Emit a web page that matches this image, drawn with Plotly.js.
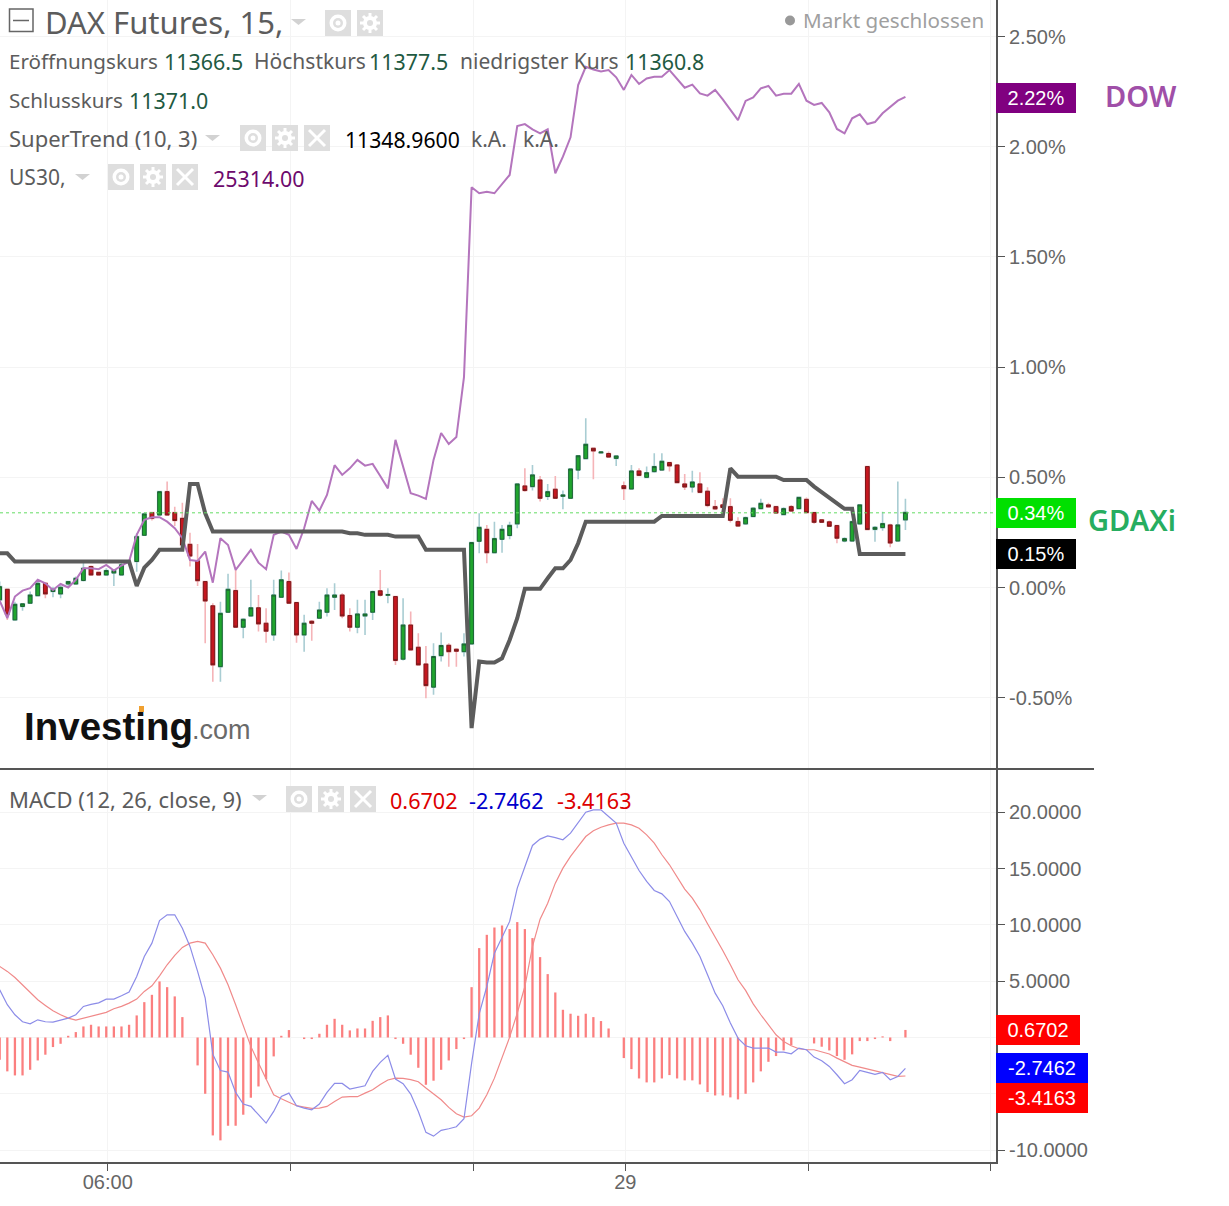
<!DOCTYPE html>
<html><head><meta charset="utf-8">
<script src="https://cdn.plot.ly/plotly-3.0.1.min.js"></script>
<style>html,body{margin:0;padding:0;background:#fff}#c{width:1229px;height:1206px}</style>
</head><body><div id="c"></div>
<script>
// ---- data; first entry of every series is bar slot -1 ----
const openPct = [-.056,
-.008,-.147,-.086,-.071,-.037,.019,-.018,-.029,.016,.016,
.032,.095,.069,.057,.066,.057,null,.118,.237,.340,
.329,.435,.340,.314,.196,.121,.027,-.083,-.359,-.112,
-.014,-.180,-.129,-.092,-.162,-.215,-.044,.027,-.068,-.215,
-.153,-.139,-.112,-.044,-.034,-.127,-.180,-.129,-.112,-.015,
-.035,-.041,-.325,-.170,-.271,-.347,-.452,-.309,-.262,-.280,
-.291,-.256,.210,.264,.158,.219,.236,.289,.461,.458,
.488,.413,.446,.414,.405,.533,.585,.632,.611,.608,
.586,.462,.447,.529,.500,.526,.533,.567,.556,.470,
.456,.470,.437,.367,.375,.367,.299,.289,.322,.358,
.375,.367,.331,.367,.358,.400,.340,.307,.298,.281,
.211,.211,.289,.549,.264,.272,.284,.211,.307];
const closePct = [.004,
-.121,-.076,-.074,-.034,.019,-.029,-.008,.001,.027,.042,
.087,.057,.057,.077,.077,.103,null,.231,.334,.314,
.435,.329,.304,.193,.143,.031,-.061,-.351,-.117,-.008,
-.180,-.144,-.092,-.165,-.198,-.034,.035,-.071,-.215,-.162,
-.162,-.102,-.034,-.034,-.129,-.180,-.120,-.120,-.018,-.035,
-.032,-.331,-.170,-.283,-.351,-.445,-.313,-.263,-.291,-.289,
-.256,.204,.273,.158,.222,.264,.282,.470,.440,.511,
.405,.435,.405,.420,.538,.598,.650,.620,.615,.592,
.597,.449,.529,.509,.521,.549,.573,.552,.476,.456,
.479,.432,.372,.357,.363,.305,.279,.317,.360,.382,
.366,.338,.358,.347,.409,.340,.296,.296,.278,.224,
.222,.299,.375,.263,.273,.290,.202,.284,.341];
const highPct = [.027,
-.008,-.064,-.074,-.018,.038,.022,.004,.019,.027,.050,
.118,.100,.072,.087,.080,.118,null,.246,.340,.344,
.435,.481,.367,.385,.249,.198,.027,-.071,-.064,.062,
.080,-.139,.035,-.034,-.094,.035,.077,.068,-.068,-.124,
-.147,-.064,-.003,.019,-.026,-.094,-.056,-.056,-.014,.080,
-.003,-.041,-.049,-.109,-.207,-.265,-.253,-.204,-.253,-.275,
-.207,.208,.337,.284,.299,.284,.299,.473,.541,.556,
.506,.470,.506,.440,.541,.601,.768,.632,.615,.617,
.600,.481,.556,.541,.549,.609,.609,.571,.561,.515,
.530,.523,.455,.397,.405,.405,.319,.322,.364,.403,
.385,.370,.364,.375,.413,.409,.344,.310,.304,.284,
.228,.304,.379,.549,.279,.344,.289,.481,.403];
const lowPct = [-.070,
-.147,-.147,-.105,-.074,-.041,-.049,-.044,-.049,.004,.016,
.027,.057,.054,.054,.007,.057,null,.072,.234,.304,
.326,.329,.279,.186,.095,.007,-.253,-.427,-.427,-.112,
-.180,-.230,-.132,-.200,-.250,-.241,-.044,-.071,-.250,-.291,
-.241,-.139,-.132,-.102,-.139,-.200,-.207,-.215,-.147,-.041,
-.071,-.351,-.331,-.286,-.351,-.502,-.487,-.336,-.359,-.359,
-.313,-.260,.155,.110,.158,.158,.219,.269,.435,.440,
.390,.397,.405,.355,.405,.491,.585,.491,.609,.591,
.552,.397,.446,.506,.500,.521,.530,.526,.473,.443,
.431,.432,.364,.352,.360,.295,.276,.284,.322,.355,
.363,.334,.328,.344,.355,.337,.289,.295,.276,.201,
.205,.208,.284,.261,.208,.258,.183,.211,.261];
const dowPct = [-.06,
-.139,-.041,-.014,-.003,.035,.019,-.011,.016,0,.035,
.087,.087,.083,.103,.077,.100,.118,.239,.307,.319,
.319,.299,.269,.224,.125,.121,.163,.022,.224,.193,
.080,.125,.171,.113,.083,.239,.254,.239,.175,.269,
.393,.349,.420,.555,.511,.541,.579,.553,.561,.506,
.450,.670,.549,.428,.417,.402,.579,.701,.651,.683,
.955,1.816,1.789,1.796,1.789,1.831,1.872,2.094,2.103,2.079,
2.061,2.079,1.880,1.955,2.043,2.280,2.363,2.351,2.342,2.348,
2.315,2.258,2.326,2.285,2.310,2.318,2.318,2.348,2.310,2.268,
2.282,2.242,2.232,2.258,2.215,2.167,2.121,2.208,2.224,2.265,
2.276,2.232,2.241,2.241,2.285,2.209,2.190,2.199,2.156,2.081,
2.061,2.129,2.147,2.103,2.112,2.152,2.179,2.209,2.226];
const superTrendPct = [.155,
.155,.118,.118,.118,.118,.118,.118,.118,.118,.118,
.118,.118,.118,.118,.118,.118,.118,.007,.090,.125,
.171,.171,.171,.171,.470,.470,.337,.254,.254,.254,
.254,.254,.254,.254,.254,.254,.254,.254,.254,.254,
.254,.254,.254,.254,.254,.246,.246,.239,.239,.239,
.239,.231,.231,.231,.231,.171,.171,.171,.171,.171,
.171,-.638,-.336,-.340,-.340,-.321,-.238,-.139,-.006,-.006,
-.006,.042,.087,.087,.125,.201,.299,.299,.299,.299,
.299,.299,.299,.299,.299,.299,.325,.325,.325,.325,
.325,.325,.325,.325,.325,.541,.503,.503,.503,.503,
.503,.503,.488,.488,.488,.488,.458,.432,.405,.379,
.357,.357,.152,.152,.152,.152,.152,.152,.152];
const macdHist = [-1.98,
-3.01,-3.37,-3.37,-2.87,-2.04,-1.53,-.85,-.56,.15,.48,
.98,1.13,.98,.98,.98,.98,1.13,1.96,3.14,3.79,
4.98,4.47,3.65,1.81,0,-2.48,-5.0,-8.70,-9.14,-7.84,
-7.84,-6.86,-5.35,-4.35,-3.70,-1.68,.15,.66,0,-.14,
-.14,.33,1.13,1.66,1.13,.63,.80,.80,1.48,1.81,
1.96,-.14,-.56,-1.53,-2.69,-4.20,-3.84,-2.87,-2.04,-1.03,
-.14,4.47,7.94,9.12,9.77,9.95,9.63,10.25,9.63,8.83,
7.14,5.63,4.0,2.46,2.11,1.93,2.11,1.81,1.46,.80,
0,-1.83,-2.81,-3.64,-3.99,-3.99,-3.64,-3.34,-3.64,-3.81,
-3.81,-4.17,-4.85,-5.15,-5.15,-5.32,-5.5,-5.0,-3.99,-3.01,
-2.16,-1.65,-1.15,-.68,0,0,-.53,-.82,-1.15,-1.65,
-1.98,-1.5,-.32,-.32,-.14,.1,-.32,0,.67];
const macdLine = [4.24,
2.91,2.02,1.40,1.22,1.57,1.40,1.37,1.54,1.72,2.02,
2.76,2.94,3.08,3.41,3.41,3.71,4.03,5.42,7.20,8.38,
10.39,10.90,10.90,9.71,8.09,5.87,3.50,-1.48,-2.93,-3.07,
-4.88,-5.91,-6.12,-6.86,-7.60,-6.57,-5.23,-4.94,-6.06,-6.27,
-6.42,-5.91,-4.88,-4.08,-4.08,-4.58,-4.43,-4.29,-3.01,-2.21,
-1.59,-3.69,-4.11,-5.03,-6.57,-8.43,-8.76,-8.25,-8.11,-7.93,
-7.22,-2.3,2.1,4.53,7.49,8.83,10.31,13.27,15.19,17.06,
17.62,17.91,17.76,17.56,18.15,19.04,20.01,20.22,20.22,19.63,
19.04,17.26,16.08,14.83,13.86,13.06,12.76,12.08,10.75,9.42,
8.38,7.20,5.57,3.94,2.82,1.28,-.05,-.73,-.94,-.94,
-.94,-1.30,-1.30,-1.45,-.94,-1.09,-1.74,-2.07,-2.57,-3.31,
-4.11,-3.75,-2.93,-3.10,-3.28,-3.10,-3.75,-3.46,-2.75];
const signalLine = [6.31,
5.87,5.33,4.68,3.94,3.35,2.85,2.37,2.02,1.72,1.54,
1.72,1.87,2.05,2.23,2.55,2.76,3.05,3.41,4.09,4.59,
5.48,6.46,7.29,8.00,8.38,8.53,8.38,7.35,6.16,4.68,
2.91,1.13,-.79,-2.27,-3.75,-5.09,-5.44,-5.74,-6.06,-6.18,
-6.30,-6.27,-6.12,-5.68,-5.29,-5.26,-5.26,-4.94,-4.64,-4.17,
-3.78,-3.61,-3.64,-3.75,-3.93,-4.49,-5.0,-5.53,-6.21,-6.77,
-7.07,-6.95,-6.27,-5.09,-3.61,-1.83,.03,2.17,4.53,8.09,
10.51,11.93,13.71,15.04,16.08,16.97,17.85,18.36,18.68,18.89,
19.04,19.04,18.89,18.59,18.0,17.26,16.23,15.34,14.30,13.18,
12.38,11.34,10.10,8.97,7.73,6.46,5.13,4.18,2.99,2.02,
1.13,.24,-.35,-.73,-1.0,-1.09,-1.09,-1.30,-1.47,-1.83,
-2.19,-2.48,-2.63,-2.81,-2.95,-3.10,-3.31,-3.46,-3.42];

const xTickVals = [13.2,37.2,61.2,81.2,105.2,129.2];
const xTickText = ['06:00','','','29','',''];
const priceTickVals = [2.5,2,1.5,1,.5,0,-.5];
const priceTickText = ['2.50%','2.00%','1.50%','1.00%','0.50%','0.00%','-0.50%'];
const macdTickVals = [20,15,10,5,0,-5,-10];
const macdTickText = ['20.0000','15.0000','10.0000','5.0000','','','-10.0000'];

const slots = openPct.map((_, k) => k - 1);

// ---- page geometry helpers ----
const W = 1229, H = 1206, PW = 996, PH = 1162;
const px = x => x / PW, py = y => 1 - y / PH;
const UI = '"Noto Sans", sans-serif', AX = '"Liberation Sans", Arial, sans-serif';
const GREY = '#5c5c5c', VAL = '#1f5a42';

const anns = [];
function T(text, x, y, size, color, extra) {
  anns.push(Object.assign({text, xref:'paper', yref:'paper', x:px(x), y:py(y), xanchor:'left', yanchor:'middle',
    showarrow:false, borderpad:0, borderwidth:0, font:{family:UI, size, color}}, extra || {}));
}
function P(text, yval, yref, bg, w, shift) {
  anns.push({text, xref:'paper', yref, x:1, y:yval, xanchor:'left', yanchor:'middle', showarrow:false,
    width:w, height:30, bgcolor:bg, align:'center', valign:'middle', borderpad:0, borderwidth:0, yshift:shift || 0,
    font:{family:AX, size:20, color:'#fff'}});
}

const shapes = [];
const pRect = (x0,y0,x1,y1,o) => shapes.push(Object.assign({type:'rect', xref:'paper', yref:'paper', layer:'above',
  x0:px(x0), x1:px(x1), y0:py(y0), y1:py(y1), line:{width:0}}, o));
const pLine = (x0,y0,x1,y1,color,width) => shapes.push({type:'line', xref:'paper', yref:'paper', layer:'above',
  x0:px(x0), x1:px(x1), y0:py(y0), y1:py(y1), line:{color, width}});
const pCirc = (cx,cy,r,o) => shapes.push(Object.assign({type:'circle', xref:'paper', yref:'paper', layer:'above',
  x0:px(cx-r), x1:px(cx+r), y0:py(cy-r), y1:py(cy+r), line:{width:0}}, o));
const tri = (x,y) => shapes.push({type:'path', xref:'paper', yref:'paper', layer:'above', fillcolor:'#d2d2d2', line:{width:0},
  path:`M ${px(x)} ${py(y)} L ${px(x+15)} ${py(y)} L ${px(x+7.5)} ${py(y+6)} Z`});
function box(x,y){ pRect(x,y,x+26,y+26,{fillcolor:'#dedede'}); }
function eye(x,y){ box(x,y); pCirc(x+13,y+13,8.5,{fillcolor:'#fff'}); pCirc(x+13,y+13,5,{fillcolor:'#dedede'}); pCirc(x+13,y+13,2.5,{fillcolor:'#fff'}); }
function gear(x,y){ box(x,y); pCirc(x+13,y+13,7,{fillcolor:'#fff'});
  pLine(x+13,y+3,x+13,y+23,'#fff',3); pLine(x+3,y+13,x+23,y+13,'#fff',3); pLine(x+6,y+6,x+20,y+20,'#fff',3); pLine(x+6,y+20,x+20,y+6,'#fff',3);
  pCirc(x+13,y+13,3,{fillcolor:'#dedede'}); }
function cross(x,y){ box(x,y); pLine(x+5,y+5,x+21,y+21,'#fff',3); pLine(x+5,y+21,x+21,y+5,'#fff',3); }

// pane separator, last-close line, collapse box
pLine(0,769,1094,769,'#555',2);
shapes.push({type:'line', xref:'paper', yref:'y', x0:0, x1:1, y0:.339, y1:.339, line:{color:'#63dd63', width:1, dash:'dot'}});
shapes.push({type:'rect', xref:'paper', yref:'paper', layer:'above', x0:px(9.5), x1:px(33), y0:py(9), y1:py(31.5), line:{color:'#666', width:1.5}, fillcolor:'#fff'});
pLine(13,20.5,29,20.5,'#666',1.5);

// header
T('DAX Futures, 15,', 45, 22, 31, GREY);
tri(291,19); eye(325,10); gear(357,10);
pCirc(790,20.5,5,{fillcolor:'#999'});
T('Markt geschlossen', 803, 20, 20.6, '#a0a0a0');
T('Eröffnungskurs', 9, 61, 20.6, GREY); T('11366.5', 164, 61, 21.4, VAL);
T('Höchstkurs', 254, 61, 21, GREY); T('11377.5', 369, 61, 21.4, VAL);
T('niedrigster Kurs', 460, 61, 21, GREY); T('11360.8', 625, 61, 21.4, VAL);
T('Schlusskurs', 9, 100, 20.6, GREY); T('11371.0', 129, 100, 21.4, VAL);
T('SuperTrend (10, 3)', 9, 138, 22, GREY); tri(205,135); eye(240,125); gear(272,125); cross(304,125);
T('11348.9600', 345, 139, 21.2, '#000'); T('k.A.', 471, 139, 21, GREY); T('k.A.', 523, 139, 21, GREY);
T('US30,', 9, 177, 21, GREY); tri(75,174); eye(108,164); gear(140,164); cross(172,164);
T('25314.00', 213, 178, 21.4, '#6d0a6d');
// MACD header
T('MACD (12, 26, close, 9)', 9, 799, 22, GREY); tri(252,795); eye(286,786); gear(318,786); cross(350,786);
T('0.6702', 390, 800, 21.6, '#dd0000'); T('-2.7462', 469, 800, 21.6, '#0000cc'); T('-3.4163', 557, 800, 21.6, '#dd0000');
// logo
T('Investing', 24, 726, 38.5, '#111', {font:{family:AX, size:38.5, color:'#111', weight:700}});
T('.com', 192, 730, 27, '#6a6a6a', {font:{family:AX, size:27, color:'#6a6a6a'}});
pRect(139,706,144,712,{fillcolor:'#f0a030'});
// side names
T('DOW', 1105, 95, 29, '#a04fa8', {font:{family:UI, size:29, color:'#a04fa8', weight:600}});
T('GDAXi', 1088, 519, 29, '#27ad60', {font:{family:UI, size:29, color:'#27ad60', weight:600}});
// price labels
P('2.22%', 2.22, 'y', '#800080', 80);
P('0.34%', .339, 'y', '#00e000', 80);
P('0.15%', .15, 'y', '#000', 80);
P('0.6702', .6702, 'y2', '#ff0000', 84);
P('-2.7462', -2.7462, 'y2', '#0000ff', 92);
P('-3.4163', -3.4163, 'y2', '#ff0000', 92, -22);

const bodyHigh = openPct.map((o,k) => o === null ? null : Math.max(o, closePct[k]));
const bodyLow  = openPct.map((o,k) => o === null ? null : Math.min(o, closePct[k]));
const cw = 0.7;
const traces = [
  {type:'candlestick', x:slots, open:openPct, high:highPct, low:lowPct, close:closePct, xaxis:'x', yaxis:'y', width:cw, whiskerwidth:0,
   increasing:{line:{color:'#a9cdd3', width:1.6}, fillcolor:'rgba(0,0,0,0)'}, decreasing:{line:{color:'#f5b4b8', width:1.6}, fillcolor:'rgba(0,0,0,0)'},
   hoverinfo:'skip', showlegend:false},
  {type:'candlestick', x:slots, open:openPct, high:bodyHigh, low:bodyLow, close:closePct, xaxis:'x', yaxis:'y', width:cw, whiskerwidth:0,
   increasing:{line:{color:'#1c6433', width:1}, fillcolor:'#1fa52e'}, decreasing:{line:{color:'#7a1a1c', width:1}, fillcolor:'#c5171f'},
   hoverinfo:'skip', showlegend:false},
  {type:'scatter', mode:'lines', x:slots, y:dowPct, xaxis:'x', yaxis:'y', line:{color:'#b475bd', width:2}, hoverinfo:'skip', showlegend:false},
  {type:'scatter', mode:'lines', x:slots, y:superTrendPct, xaxis:'x', yaxis:'y', line:{color:'#5c5c5c', width:4}, hoverinfo:'skip', showlegend:false},
  {type:'bar', x:slots, y:macdHist, xaxis:'x', yaxis:'y2', width:0.3, marker:{color:'#fb7f7f', line:{width:0}}, hoverinfo:'skip', showlegend:false},
  {type:'scatter', mode:'lines', x:slots, y:signalLine, xaxis:'x', yaxis:'y2', line:{color:'#f08a8a', width:1.2}, hoverinfo:'skip', showlegend:false},
  {type:'scatter', mode:'lines', x:slots, y:macdLine, xaxis:'x', yaxis:'y2', line:{color:'#8c8ce8', width:1.2}, hoverinfo:'skip', showlegend:false},
];

const yCommon = {side:'right', anchor:'x', showline:true, linecolor:'#555', linewidth:2, ticks:'outside', ticklen:7, tickcolor:'#555', tickwidth:1,
  ticklabelstandoff:0, gridcolor:'#f4f4f4', gridwidth:1, zeroline:false, tickmode:'array', tickfont:{family:AX, size:20, color:'#666'}, fixedrange:true};
const layout = {
  width:W, height:H, margin:{l:0, r:W-PW, t:0, b:H-PH, pad:0}, paper_bgcolor:'#fff', plot_bgcolor:'#fff', showlegend:false, barmode:'overlay',
  xaxis:{range:[-0.96,129.9], anchor:'y2', domain:[0,1], showline:true, linecolor:'#555', linewidth:2, ticks:'outside', ticklen:7, tickcolor:'#555', tickwidth:1,
    ticklabelstandoff:-6, tickmode:'array', tickvals:xTickVals, ticktext:xTickText, tickfont:{family:AX, size:20, color:'#666'}, gridcolor:'#f4f4f4', zeroline:false,
    rangeslider:{visible:false}, fixedrange:true},
  yaxis:Object.assign({}, yCommon, {domain:[394/PH,1], range:[-0.8189,2.666], tickvals:priceTickVals, ticktext:priceTickText}),
  yaxis2:Object.assign({}, yCommon, {domain:[0,392/PH], range:[-11.06,23.76], tickvals:macdTickVals, ticktext:macdTickText}),
  annotations:anns, shapes:shapes
};
Plotly.newPlot('c', traces, layout, {staticPlot:true, displayModeBar:false});
</script></body></html>
